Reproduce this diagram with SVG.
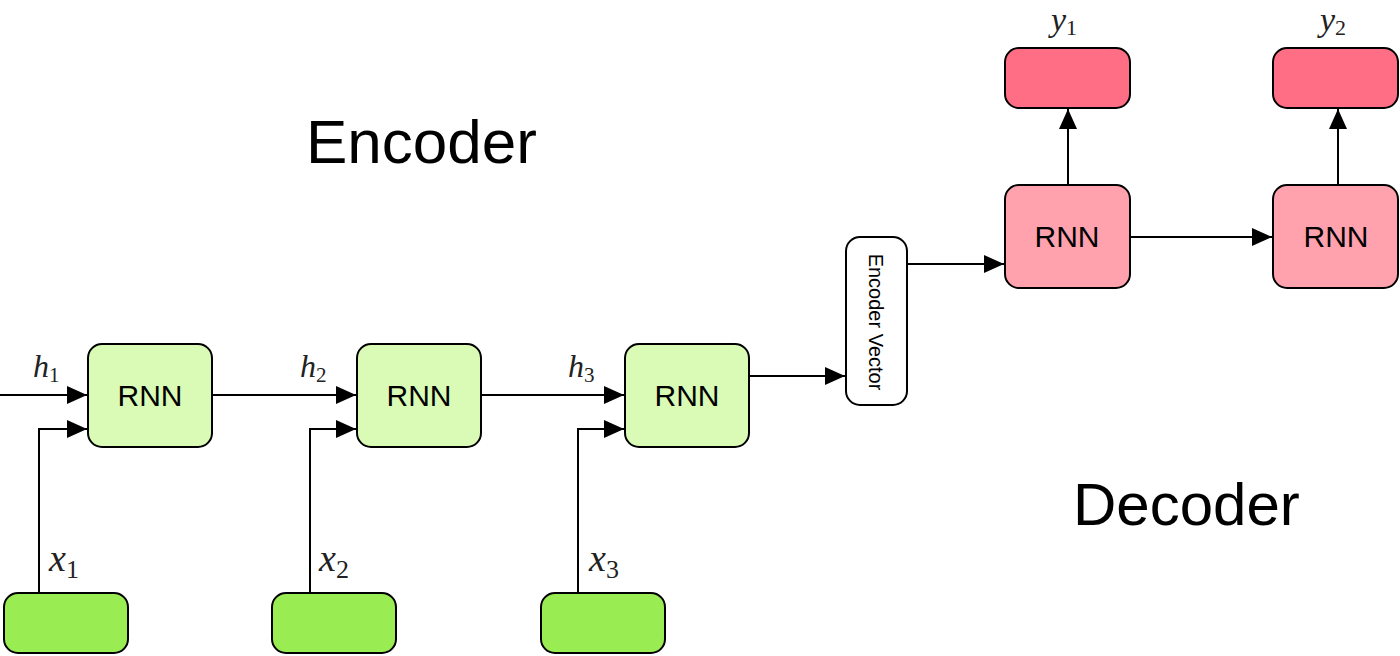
<svg xmlns="http://www.w3.org/2000/svg" width="1400" height="656" viewBox="0 0 1400 656">
<style>
.box{stroke:#000;stroke-width:2}
.enc{fill:#d9fbb6}
.inp{fill:#9aec53}
.dec{fill:#ffa2ae}
.out{fill:#ff6e84}
.vec{fill:#fff}
.lbl{font-family:"Liberation Sans",Arial,sans-serif;fill:#000}
.rnn{font-size:30px;text-anchor:middle}
.math{font-family:"Liberation Serif","Times New Roman",serif;font-style:italic;fill:#222}
.sub{font-style:normal}
.conn{fill:none;stroke:#000;stroke-width:2}
</style>
<defs>
<marker id="arr" markerWidth="20" markerHeight="18" refX="20" refY="9" orient="auto" markerUnits="userSpaceOnUse">
<path d="M0,0 L20,9 L0,18 Z" fill="#000"/>
</marker>
</defs>
<rect width="1400" height="656" fill="#fff"/>
<g id="connectors">
<path class="conn" d="M0,395 L87,395" marker-end="url(#arr)"/>
<path class="conn" d="M212,395 L356,395" marker-end="url(#arr)"/>
<path class="conn" d="M481,395 L624,395" marker-end="url(#arr)"/>
<path class="conn" d="M39,593 L39,429 L87,429" marker-end="url(#arr)"/>
<path class="conn" d="M310,593 L310,429 L356,429" marker-end="url(#arr)"/>
<path class="conn" d="M578,593 L578,429 L624,429" marker-end="url(#arr)"/>
<path class="conn" d="M750,376 L845,376" marker-end="url(#arr)"/>
<path class="conn" d="M907,264 L1004,264" marker-end="url(#arr)"/>
<path class="conn" d="M1130,237 L1272,237" marker-end="url(#arr)"/>
<path class="conn" d="M1068,185 L1068,109" marker-end="url(#arr)"/>
<path class="conn" d="M1338,185 L1338,109" marker-end="url(#arr)"/>
</g>
<g id="title-encoder"><text class="lbl" x="306" y="163" font-size="62">Encoder</text></g>
<g id="title-decoder"><text class="lbl" x="1073" y="525" font-size="60">Decoder</text></g>
<g id="enc-rnn1"><rect class="box enc" x="88" y="344" width="124" height="103" rx="14"/><text class="lbl rnn" x="150" y="406">RNN</text></g>
<g id="enc-rnn2"><rect class="box enc" x="357" y="344" width="124" height="103" rx="14"/><text class="lbl rnn" x="419" y="406">RNN</text></g>
<g id="enc-rnn3"><rect class="box enc" x="625" y="344" width="124" height="103" rx="14"/><text class="lbl rnn" x="687" y="406">RNN</text></g>
<g id="input1"><rect class="box inp" x="4" y="593" width="124" height="60" rx="14"/></g>
<g id="input2"><rect class="box inp" x="272" y="593" width="124" height="60" rx="14"/></g>
<g id="input3"><rect class="box inp" x="541" y="593" width="124" height="60" rx="14"/></g>
<g id="encoder-vector"><rect class="box vec" x="846" y="237" width="61" height="168" rx="14"/><text class="lbl" font-size="20" text-anchor="middle" transform="translate(876,322) rotate(90)" x="0" y="7">Encoder Vector</text></g>
<g id="dec-rnn1"><rect class="box dec" x="1005" y="185" width="125" height="103" rx="14"/><text class="lbl rnn" x="1067" y="247">RNN</text></g>
<g id="dec-rnn2"><rect class="box dec" x="1273" y="185" width="125" height="103" rx="14"/><text class="lbl rnn" x="1336" y="247">RNN</text></g>
<g id="output1"><rect class="box out" x="1005" y="48" width="125" height="60" rx="14"/></g>
<g id="output2"><rect class="box out" x="1273" y="48" width="125" height="60" rx="14"/></g>
<g id="labels">
<text class="math" x="33" y="377" font-size="32">h<tspan class="sub" font-size="21" dy="5">1</tspan></text>
<text class="math" x="300" y="377" font-size="32">h<tspan class="sub" font-size="21" dy="5">2</tspan></text>
<text class="math" x="568" y="377" font-size="32">h<tspan class="sub" font-size="21" dy="5">3</tspan></text>
<text class="math" x="49" y="571" font-size="38">x<tspan class="sub" font-size="26" dy="7">1</tspan></text>
<text class="math" x="319" y="571" font-size="38">x<tspan class="sub" font-size="26" dy="7">2</tspan></text>
<text class="math" x="589" y="571" font-size="38">x<tspan class="sub" font-size="26" dy="7">3</tspan></text>
<text class="math" x="1051" y="31" font-size="34">y<tspan class="sub" font-size="22" dy="4">1</tspan></text>
<text class="math" x="1320" y="31" font-size="34">y<tspan class="sub" font-size="22" dy="4">2</tspan></text>
</g>
</svg>
